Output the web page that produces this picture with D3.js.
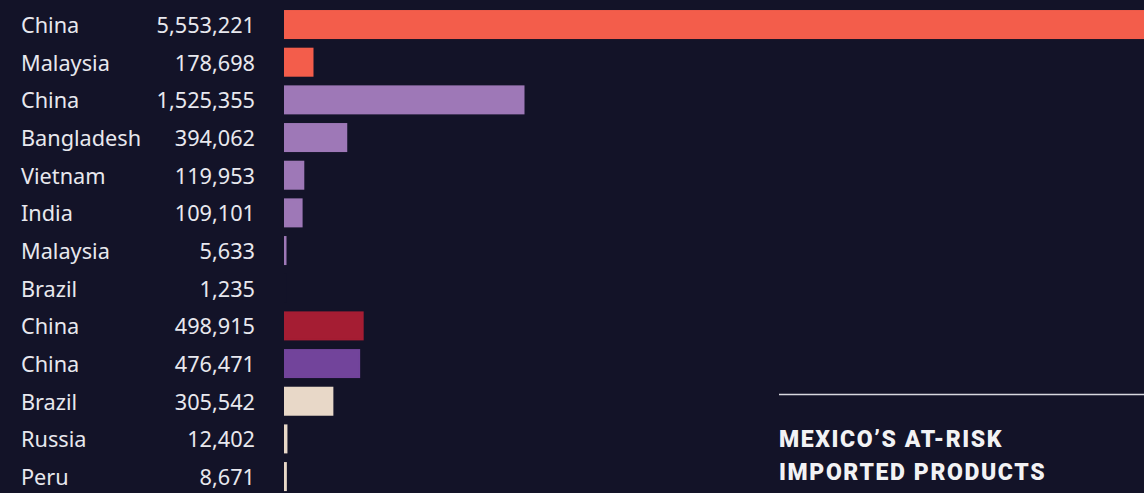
<!DOCTYPE html>
<html>
<head>
<meta charset="utf-8">
<script src="https://cdn.jsdelivr.net/npm/d3@7"></script>
<style>
  html, body { margin: 0; padding: 0; background: #131328; overflow: hidden; }
  svg { display: block; }
</style>
</head>
<body>
<svg id="chart" width="1144" height="493"></svg>
<script>
// Import volumes by origin country, one row per product/origin pair
const countries = ["China", "Malaysia", "China", "Bangladesh", "Vietnam", "India", "Malaysia",
                   "Brazil", "China", "China", "Brazil", "Russia", "Peru"];
const values = [5553221, 178698, 1525355, 394062, 119953, 109101, 5633,
                1235, 498915, 476471, 305542, 12402, 8671];
const barColors = ["#f35d4b", "#f35d4b", "#9e78b7", "#9e78b7", "#9e78b7", "#9e78b7", "#9e78b7",
                   "#131328", "#a51d33", "#72449b", "#e8d8c8", "#e8d8c8", "#e8d8c8"];
const titleLines = ["MEXICO\u2019S AT-RISK", "IMPORTED PRODUCTS"];

const W = 1144, H = 493;
const svg = d3.select("#chart");
const bg = "#131328";

svg.append("rect").attr("width", W).attr("height", H).attr("fill", bg);

const rows = d3.range(values.length);
const y = d3.scaleBand()
  .domain(rows)
  .range([10 - 4.3, 10 - 4.3 + 37.67 * values.length])
  .paddingInner(0.23)
  .paddingOuter(0.115);

const x = d3.scaleLinear()
  .domain([0, 1525355])
  .range([284, 523]);

const g = svg.append("g");

// Bars carry a 1px outline in their own colour so tiny values stay visible
g.selectAll("rect.bar")
  .data(rows)
  .join("rect")
  .attr("class", "bar")
  .attr("x", x(0) + 1)
  .attr("y", i => y(i) + 1)
  .attr("width", i => Math.max(0.5, x(values[i]) - x(0) - 0.5))
  .attr("height", y.bandwidth() - 2)
  .attr("fill", i => barColors[i])
  .attr("stroke", i => barColors[i])
  .attr("stroke-width", 2);

const textColor = "#e8e8ee";

g.selectAll("text.country")
  .data(rows)
  .join("text")
  .attr("class", "country")
  .attr("x", 21)
  .attr("y", i => y(i) + y.bandwidth() / 2 + 8.5)
  .attr("fill", textColor)
  .style("font-family", "'Noto Sans', sans-serif")
  .style("font-size", "21.7px")
  .text(i => countries[i]);

const fmt = d3.format(",");
g.selectAll("text.value")
  .data(rows)
  .join("text")
  .attr("class", "value")
  .attr("x", 255)
  .attr("y", i => y(i) + y.bandwidth() / 2 + 8.5)
  .attr("text-anchor", "end")
  .attr("fill", textColor)
  .style("font-family", "'Noto Sans', sans-serif")
  .style("font-size", "21.7px")
  .text(i => fmt(values[i]));

// Title block with divider rule
svg.append("line")
  .attr("x1", 779).attr("x2", W)
  .attr("y1", 394.5).attr("y2", 394.5)
  .attr("stroke", "#d8d8de")
  .attr("stroke-width", 1.5);

svg.selectAll("text.title")
  .data(titleLines)
  .join("text")
  .attr("class", "title")
  .attr("x", 779)
  .attr("y", (d, i) => 446.5 + i * 33.5)
  .attr("fill", "#f2f2f4")
  .style("font-family", "Roboto, sans-serif")
  .style("font-weight", 900)
  .style("font-size", "23px")
  .style("letter-spacing", "1.6px")
  .text(d => d);
</script>
</body>
</html>
